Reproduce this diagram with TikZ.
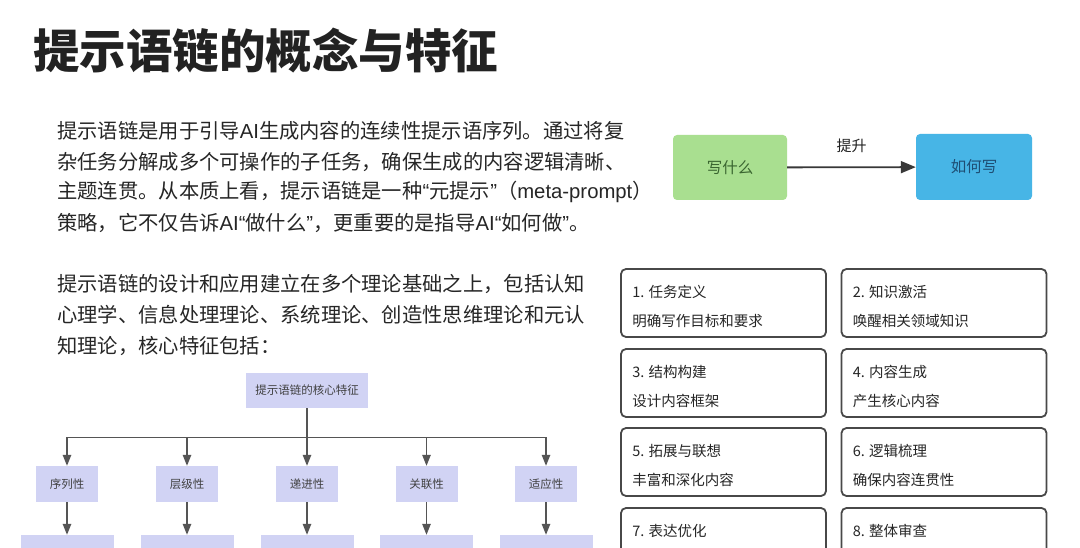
\documentclass[tikz,border=0pt]{standalone}
\usepackage{fontspec}
\setmainfont{Noto Sans CJK SC}
\newfontfamily\latin{Liberation Sans}
\usetikzlibrary{arrows.meta,calc}
\definecolor{inkdark}{HTML}{222222}
\definecolor{inkbody}{HTML}{262626}
\definecolor{greenfill}{HTML}{A9DF90}
\definecolor{greenink}{HTML}{3A6630}
\definecolor{bluefill}{HTML}{47B5E6}
\definecolor{blueink}{HTML}{1E4E74}
\definecolor{lavfill}{HTML}{D1D3F4}
\definecolor{boxedge}{HTML}{484848}
\definecolor{lineink}{HTML}{555555}
\begin{document}
\begin{tikzpicture}[x=1pt,y=-1pt,
  bodyline/.style={anchor=west,inner sep=0pt,text=inkbody,font=\fontsize{20.3}{24}\selectfont},
  stepbox/.style={draw=boxedge,line width=1.8pt,rounded corners=5pt,minimum width=205pt,minimum height=68pt,inner sep=0pt},
  steptxt/.style={anchor=west,inner sep=0pt,text=inkbody,font=\fontsize{14.5}{17}\selectfont},
  featbox/.style={fill=lavfill,inner sep=0pt,text=black!75,font=\fontsize{11.5}{14}\selectfont},
  treeline/.style={draw=lineink,line width=1.3pt,-{Triangle[length=11pt,width=8.5pt]}}]
  \clip (0,0) rectangle (1080,548);
  \fill[white] (0,0) rectangle (1080,548);
  % title
  \node[anchor=west,inner sep=0pt,text=inkdark,font=\fontsize{46.5}{50}\selectfont\bfseries] (title) at (33,51) {提示语链的概念与特征};
  % text on the left
  \node[bodyline] (p1a) at (57,131) {提示语链是用于引导{\latin AI}生成内容的连续性提示语序列。通过将复};
  \node[bodyline] (p1b) at (57,161.5) {杂任务分解成多个可操作的子任务，确保生成的内容逻辑清晰、};
  \node[bodyline] (p1c) at (57,192) {主题连贯。从本质上看，提示语链是一种{\latin “}元提示{\latin ”}（{\latin meta-prompt}）};
  \node[bodyline] (p1d) at (57,222.5) {策略，它不仅告诉{\latin AI“}做什么{\latin ”}，更重要的是指导{\latin AI“}如何做{\latin ”}。};
  \node[bodyline] (p2a) at (57,284) {提示语链的设计和应用建立在多个理论基础之上，包括认知};
  \node[bodyline] (p2b) at (57,315) {心理学、信息处理理论、系统理论、创造性思维理论和元认};
  \node[bodyline] (p2c) at (57,346) {知理论，核心特征包括：};
  % what -> how
  \node[fill=greenfill,rounded corners=4pt,minimum width=114pt,minimum height=65pt,text=greenink,font=\fontsize{15.5}{18}\selectfont] (what) at (730,167.5) {写什么};
  \node[fill=bluefill,rounded corners=4pt,minimum width=116pt,minimum height=66pt,text=blueink,font=\fontsize{15.5}{18}\selectfont] (how) at (974,167) {如何写};
  \draw[draw=inkdark!90,line width=1.8pt,-{Triangle[length=15pt,width=12pt]}] (what) -- node[above=14pt,inner sep=0pt,text=inkdark,font=\fontsize{15}{18}\selectfont] (lift) {提升} (how);
  % steps
  \node[stepbox] (s1) at (723.5,303) {};
  \node[stepbox] (s2) at (944,303) {};
  \node[stepbox] (s3) at (723.5,383) {};
  \node[stepbox] (s4) at (944,383) {};
  \node[stepbox] (s5) at (723.5,462) {};
  \node[stepbox] (s6) at (944,462) {};
  \node[stepbox] (s7) at (723.5,542) {};
  \node[stepbox] (s8) at (944,542) {};
  \node[steptxt] (s1t) at ($(s1.north west)+(12,24)$) {1. 任务定义};
  \node[steptxt] (s1d) at ($(s1.north west)+(12,53)$) {明确写作目标和要求};
  \node[steptxt] (s2t) at ($(s2.north west)+(12,24)$) {2. 知识激活};
  \node[steptxt] (s2d) at ($(s2.north west)+(12,53)$) {唤醒相关领域知识};
  \node[steptxt] (s3t) at ($(s3.north west)+(12,24)$) {3. 结构构建};
  \node[steptxt] (s3d) at ($(s3.north west)+(12,53)$) {设计内容框架};
  \node[steptxt] (s4t) at ($(s4.north west)+(12,24)$) {4. 内容生成};
  \node[steptxt] (s4d) at ($(s4.north west)+(12,53)$) {产生核心内容};
  \node[steptxt] (s5t) at ($(s5.north west)+(12,24)$) {5. 拓展与联想};
  \node[steptxt] (s5d) at ($(s5.north west)+(12,53)$) {丰富和深化内容};
  \node[steptxt] (s6t) at ($(s6.north west)+(12,24)$) {6. 逻辑梳理};
  \node[steptxt] (s6d) at ($(s6.north west)+(12,53)$) {确保内容连贯性};
  \node[steptxt] (s7t) at ($(s7.north west)+(12,24)$) {7. 表达优化};
  \node[steptxt] (s8t) at ($(s8.north west)+(12,24)$) {8. 整体审查};
  % feature tree
  \node[featbox,minimum width=122pt,minimum height=35pt] (core) at (307,390.5) {提示语链的核心特征};
  \node[featbox,minimum width=62pt,minimum height=36pt] (f1) at (67,484) {序列性};
  \node[featbox,minimum width=62pt,minimum height=36pt] (f2) at (187,484) {层级性};
  \node[featbox,minimum width=62pt,minimum height=36pt] (f3) at (307,484) {递进性};
  \node[featbox,minimum width=62pt,minimum height=36pt] (f4) at (426.5,484) {关联性};
  \node[featbox,minimum width=62pt,minimum height=36pt] (f5) at (546,484) {适应性};
  \node[featbox,minimum width=93pt,minimum height=36pt] (g1) at (67,553) {};
  \node[featbox,minimum width=93pt,minimum height=36pt] (g2) at (187,553) {};
  \node[featbox,minimum width=93pt,minimum height=36pt] (g3) at (307,553) {};
  \node[featbox,minimum width=93pt,minimum height=36pt] (g4) at (426.5,553) {};
  \node[featbox,minimum width=93pt,minimum height=36pt] (g5) at (546,553) {};
  \draw[treeline] (core.south) -- ++(0,29) -| (f1.north);
  \draw[treeline] (core.south) -- ++(0,29) -| (f2.north);
  \draw[treeline] (core.south) -- (f3.north);
  \draw[treeline] (core.south) -- ++(0,29) -| (f4.north);
  \draw[treeline] (core.south) -- ++(0,29) -| (f5.north);
  \draw[treeline] (f1) -- (g1);
  \draw[treeline] (f2) -- (g2);
  \draw[treeline] (f3) -- (g3);
  \draw[treeline] (f4) -- (g4);
  \draw[treeline] (f5) -- (g5);
\end{tikzpicture}
\end{document}
